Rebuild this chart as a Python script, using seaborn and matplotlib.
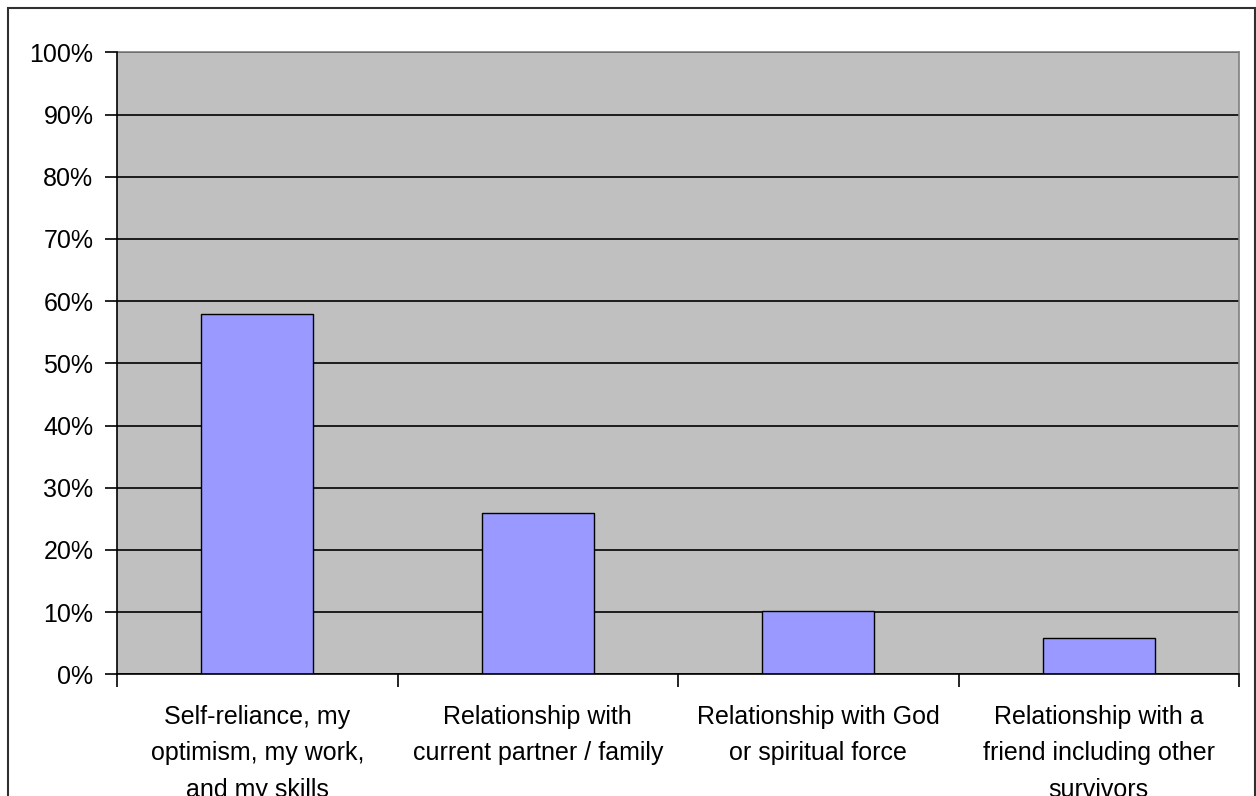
import matplotlib
matplotlib.use("Agg")
import matplotlib.pyplot as plt
from matplotlib.patches import Rectangle
from matplotlib.ticker import FixedLocator, PercentFormatter
import seaborn as sns
import pandas as pd

# Sources of support, share of respondents (%)
categories = [
    "Self-reliance, my\noptimism, my work,\nand my skills",
    "Relationship with\ncurrent partner / family",
    "Relationship with God\nor spiritual force",
    "Relationship with a\nfriend including other\nsurvivors",
]
shares = [57.9, 26.0, 10.2, 5.8]
y_ticks = list(range(0, 101, 10))

df = pd.DataFrame({"source": categories, "share": shares})

sns.set_theme(style="white")
plt.rcParams["font.family"] = ["Liberation Sans", "DejaVu Sans"]

W, H = 1256, 796
fig = plt.figure(figsize=(W / 100, H / 100), dpi=100)
ax = fig.add_axes([117 / W, 1 - 674.3 / H, (1239 - 117) / W, (674.3 - 52.3) / H])
ax.set_facecolor("#C0C0C0")

sns.barplot(data=df, x="source", y="share", ax=ax, color="#9999FF",
            saturation=1, width=0.4, edgecolor="black", linewidth=1.0,
            zorder=3)

ax.set_xlim(-0.5, len(categories) - 0.5)
ax.set_ylim(0, 100)
ax.set_yticks(y_ticks)
ax.yaxis.set_major_formatter(PercentFormatter(decimals=0))
ax.set_xlabel("")
ax.set_ylabel("")

# Horizontal gridlines
ax.yaxis.grid(True, color="black", linewidth=1.2, zorder=1)
ax.set_axisbelow(True)
ax.xaxis.grid(False)

# Category boundary ticks, labels centred under the bars
ax.xaxis.set_minor_locator(FixedLocator([i - 0.5 for i in range(len(categories) + 1)]))
ax.tick_params(axis="x", which="minor", length=9, width=1.2, color="black",
               direction="out", bottom=True)
ax.tick_params(axis="x", which="major", length=0, pad=22, labelsize=18,
               labelcolor="black")
ax.tick_params(axis="y", which="major", length=9, width=1.2, color="black",
               direction="out", left=True, pad=8, labelsize=18,
               labelcolor="black")
for lbl in ax.get_xticklabels():
    lbl.set_linespacing(1.65)
    lbl.set_verticalalignment("top")

for side in ("top", "right"):
    ax.spines[side].set_color("#808080")
    ax.spines[side].set_linewidth(1.2)
for side in ("left", "bottom"):
    ax.spines[side].set_color("black")
    ax.spines[side].set_linewidth(1.2)
    ax.spines[side].set_zorder(4)

# Chart area frame
fig.patches.append(Rectangle((8 / W, -0.05), (1255 - 8) / W, 1 - 8 / H + 0.05,
                             transform=fig.transFigure, fill=False,
                             edgecolor="#303030", linewidth=1.5))

fig.savefig("out.png", dpi=100, facecolor="white")
